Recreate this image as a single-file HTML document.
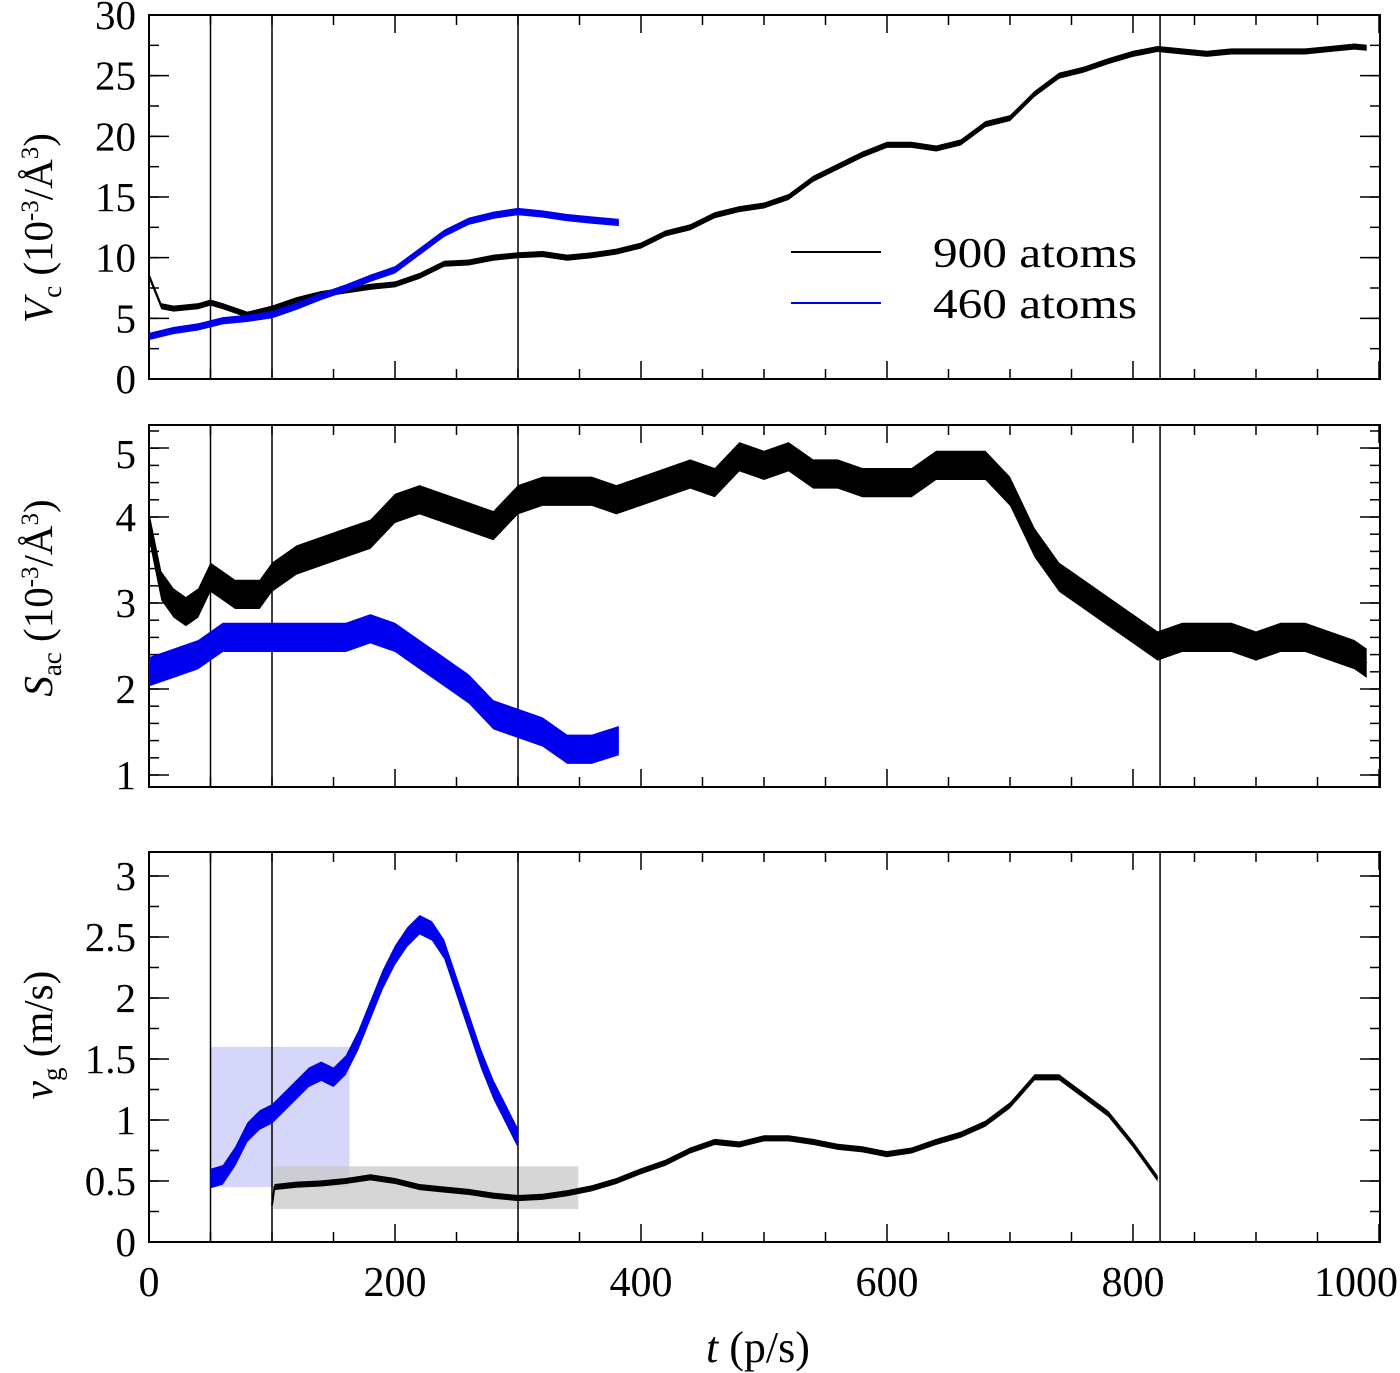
<!DOCTYPE html>
<html><head><meta charset="utf-8"><style>
html,body{margin:0;padding:0;background:#fff}
svg{display:block;font-family:"Liberation Serif",serif}
</style></head><body>
<svg id="c" width="1400" height="1373" viewBox="0 0 1400 1373" xmlns="http://www.w3.org/2000/svg"></svg>
<script>
// ---- data ----
const vcBlackT=[0,10,20,40,50,60,80,100,120,140,160,180,200,220,240,260,280,300,320,340,360,380,400,420,440,460,480,500,520,540,560,580,600,620,640,660,680,700,720,740,760,780,800,820,840,860,880,900,920,940,960,980,990];
const vcBlackV=[8.5,6,5.8,6,6.3,6,5.3,5.8,6.5,7,7.3,7.6,7.8,8.5,9.5,9.6,10,10.2,10.3,10,10.2,10.5,11,12,12.5,13.5,14,14.3,15,16.5,17.5,18.5,19.3,19.3,19,19.5,21,21.5,23.5,25,25.5,26.2,26.8,27.2,27,26.8,27,27,27,27,27.2,27.4,27.3];
const vcBlueT=[0,20,40,60,80,100,120,140,160,180,200,220,240,260,280,300,320,340,360,382];
const vcBlueV=[3.5,4,4.3,4.8,5,5.3,6,6.8,7.5,8.3,9,10.5,12,13,13.5,13.8,13.6,13.3,13.1,12.9];
const sacBlackT=[0,10,20,30,40,50,60,70,80,90,100,120,140,160,180,200,220,240,260,280,300,320,340,360,380,400,420,440,460,480,500,520,540,560,580,600,620,640,660,680,700,720,740,760,780,800,820,840,860,880,900,920,940,960,980,990];
const sacBlackV=[3.9,3.2,3,2.9,3.0,3.3,3.2,3.1,3.1,3.1,3.3,3.5,3.6,3.7,3.8,4.1,4.2,4.1,4.0,3.9,4.2,4.3,4.3,4.3,4.2,4.3,4.4,4.5,4.4,4.7,4.6,4.7,4.5,4.5,4.4,4.4,4.4,4.6,4.6,4.6,4.3,3.7,3.3,3.1,2.9,2.7,2.5,2.6,2.6,2.6,2.5,2.6,2.6,2.5,2.4,2.3];
const sacBlueT=[0,20,40,60,80,100,120,140,160,180,200,220,240,260,280,300,320,340,360,382];
const sacBlueV=[2.2,2.3,2.4,2.6,2.6,2.6,2.6,2.6,2.6,2.7,2.6,2.4,2.2,2.0,1.7,1.6,1.5,1.3,1.3,1.4];
const vgBlueT=[50,60,70,80,90,100,110,120,130,140,150,160,170,180,190,200,210,220,230,240,250,260,270,280,290,300];
const vgBlueV=[0.52,0.55,0.7,0.9,1.0,1.05,1.15,1.25,1.35,1.4,1.35,1.45,1.65,1.9,2.15,2.35,2.5,2.6,2.55,2.4,2.1,1.8,1.5,1.25,1.05,0.85];
const vgBlackT=[100,102,120,140,160,180,200,220,240,260,280,300,320,340,360,380,400,420,440,460,480,500,520,540,560,580,600,620,640,660,680,700,720,740,760,780,800,820];
const vgBlackV=[0.3,0.45,0.47,0.48,0.5,0.53,0.5,0.45,0.43,0.41,0.38,0.36,0.37,0.4,0.44,0.5,0.58,0.65,0.75,0.82,0.8,0.85,0.85,0.82,0.78,0.76,0.72,0.75,0.82,0.88,0.97,1.12,1.35,1.35,1.2,1.05,0.8,0.52];
const vLines=[50,100,300,822];
const xTickLabels=[0,200,400,600,800,1000];

const NS="http://www.w3.org/2000/svg";
const svg=document.getElementById('c');
function mk(tag,attrs,parent){const e=document.createElementNS(NS,tag);for(const k in attrs)e.setAttribute(k,attrs[k]);(parent||svg).appendChild(e);return e;}
const X0=149,X1=1380;
const xs=t=>X0+t*1.23;

function panel(name,top,bot,yfn,minorStep,majorList,labelList,lo,hi){
  const g=mk('g',{});
  
  
  for(const t of vLines){const l=mk('line',{x1:xs(t),x2:xs(t),y1:top,y2:bot,stroke:'#000','stroke-width':1.5},g);
    }
  for(let t=0;t<=1000;t+=50){const len=(t%200===0)?18:10;
    mk('line',{x1:xs(t),x2:xs(t),y1:bot,y2:bot-len,stroke:'#000','stroke-width':1.5},g);
    mk('line',{x1:xs(t),x2:xs(t),y1:top,y2:top+len,stroke:'#000','stroke-width':1.5},g);}
  for(let v=lo;v<=hi+1e-9;v+=minorStep){const y=yfn(v);if(y<top||y>bot)continue;
    mk('line',{x1:X0,x2:X0+10,y1:y,y2:y,stroke:'#000','stroke-width':1.5},g);
    mk('line',{x1:X1,x2:X1-10,y1:y,y2:y,stroke:'#000','stroke-width':1.5},g);}
  majorList.forEach((v,i)=>{const y=yfn(v);
    mk('line',{x1:X0,x2:X0+20,y1:y,y2:y,stroke:'#000','stroke-width':1.5},g);
    mk('line',{x1:X1,x2:X1-20,y1:y,y2:y,stroke:'#000','stroke-width':1.5},g);
    const tx=mk('text',{x:136,y:y+14,'text-anchor':'end','font-size':41},g);tx.textContent=labelList[i];
    });
  const r=mk('rect',{x:X0,y:top,width:X1-X0,height:bot-top,fill:'none',stroke:'#000','stroke-width':2},g);
  
  return g;
}
function series(name,T,V,yfn,amp,color,top,bot){
  const up=T.map((t,i)=>xs(t)+','+Math.max(top,yfn(V[i]+amp)));
  const dn=T.map((t,i)=>xs(t)+','+Math.min(bot,yfn(V[i]-amp))).reverse();
  const b=mk('polygon',{points:up.concat(dn).join(' '),fill:color});
  
  const p=mk('polyline',{points:T.map((t,i)=>xs(t)+','+yfn(V[i])).join(' '),fill:'none',stroke:color,'stroke-width':2});
  
}
// Panel 1
const y1=v=>379-v*12.133;
panel('panel-vc',15,379,y1,2.5,[0,5,10,15,20,25,30],['0','5','10','15','20','25','30'],0,30);
series('vc-900-atoms',vcBlackT,vcBlackV,y1,0.25,'#000',15,379);
series('vc-460-atoms',vcBlueT,vcBlueV,y1,0.3,'#0000ee',15,379);
// legend
let l=mk('line',{x1:791,x2:881,y1:252,y2:252,stroke:'#000','stroke-width':2});

l=mk('line',{x1:791,x2:881,y1:303,y2:303,stroke:'#0000ee','stroke-width':2});

let t=mk('text',{x:933,y:267,'font-size':42,textLength:204,lengthAdjust:'spacingAndGlyphs'});t.textContent='900 atoms';

t=mk('text',{x:933,y:318,'font-size':42,textLength:204,lengthAdjust:'spacingAndGlyphs'});t.textContent='460 atoms';

// Panel 2
const y2=v=>775-(v-1)*86;
const p2=panel('panel-sac',425,787,y2,0.2,[1,2,3,4],['1','2','3','4'],1,5);
mk('line',{x1:X0,x2:X0+20,y1:448,y2:448,stroke:'#000','stroke-width':1.5},p2);
mk('line',{x1:X1,x2:X1-20,y1:448,y2:448,stroke:'#000','stroke-width':1.5},p2);
t=mk('text',{x:136,y:468,'text-anchor':'end','font-size':41},p2);t.textContent='5';

series('sac-900-atoms',sacBlackT,sacBlackV,y2,0.17,'#000',425,787);
series('sac-460-atoms',sacBlueT,sacBlueV,y2,0.17,'#0000ee',425,787);
// Panel 3
const y3=v=>1242-v*122;
let s=mk('rect',{x:xs(50),y:y3(1.6),width:xs(163)-xs(50),height:y3(0.45)-y3(1.6),fill:'#d6d6fb'});

s=mk('rect',{x:xs(101),y:y3(0.62),width:xs(349)-xs(101),height:y3(0.27)-y3(0.62),fill:'#c8c8c8','fill-opacity':0.75});

panel('panel-vg',852,1242,y3,0.25,[0,0.5,1,1.5,2,2.5,3],['0','0.5','1','1.5','2','2.5','3'],0,3.2);
series('vg-460-atoms',vgBlueT,vgBlueV,y3,0.08,'#0000ee',852,1242);
series('vg-900-atoms',vgBlackT,vgBlackV,y3,0.025,'#000',852,1242);
// x tick labels
for(const v of xTickLabels){const last=v===1000;
  const tx=mk('text',{x:last?1398:xs(v),y:1296,'text-anchor':last?'end':'middle','font-size':42});tx.textContent=v;
  }
t=mk('text',{x:758,y:1362,'text-anchor':'middle','font-size':44});
t.innerHTML='<tspan font-style="italic">t</tspan> (p/s)';

function ylab(name,cy,html){const tx=mk('text',{x:0,y:0,'text-anchor':'middle','font-size':41,transform:`translate(52,${cy}) rotate(-90)`});
  tx.innerHTML=html;}
ylab('y-axis-title-vc',228,'<tspan font-style="italic">V</tspan><tspan font-size="27" dy="9">c</tspan><tspan dy="-9"> (10</tspan><tspan font-size="25" dy="-14">-3</tspan><tspan dy="14">/Å</tspan><tspan font-size="25" dy="-14">3</tspan><tspan dy="14">)</tspan>');
ylab('y-axis-title-sac',598,'<tspan font-style="italic">S</tspan><tspan font-size="27" dy="9">ac</tspan><tspan dy="-9"> (10</tspan><tspan font-size="25" dy="-14">-3</tspan><tspan dy="14">/Å</tspan><tspan font-size="25" dy="-14">3</tspan><tspan dy="14">)</tspan>');
ylab('y-axis-title-vg',1035,'<tspan font-style="italic">v</tspan><tspan font-size="27" dy="9">g</tspan><tspan dy="-9"> (m/s)</tspan>');
</script>
</body></html>
